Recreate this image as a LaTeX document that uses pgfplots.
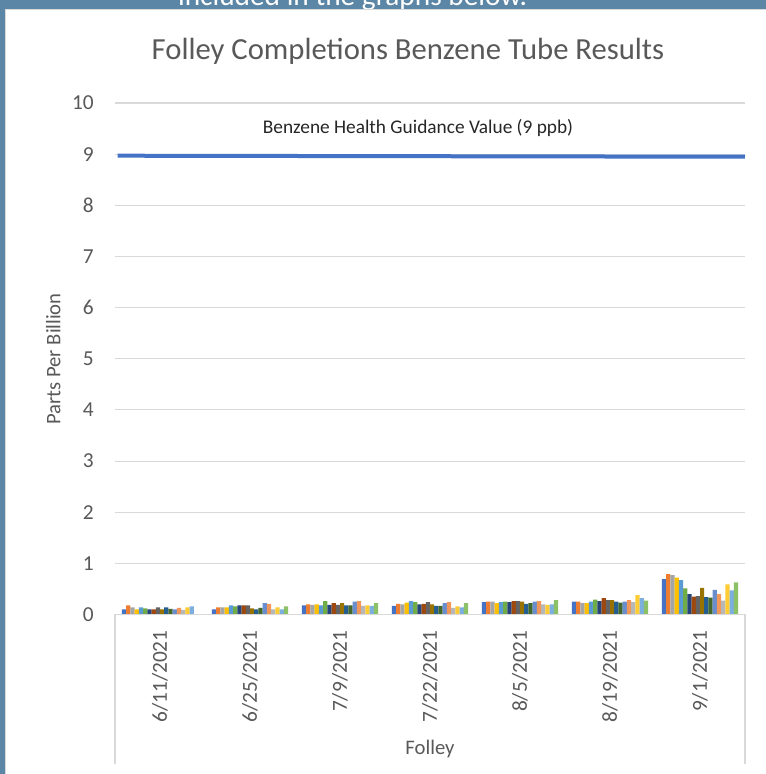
\documentclass[border=0pt]{standalone}
\usepackage{fontspec}
\setmainfont{Carlito}
\usepackage{pgfplots}
\usepackage{pgfplotstable}
\pgfplotsset{compat=1.18}
\definecolor{c1}{HTML}{4472C4}
\definecolor{c2}{HTML}{ED7D31}
\definecolor{c3}{HTML}{A5A5A5}
\definecolor{c4}{HTML}{FFC000}
\definecolor{c5}{HTML}{5B9BD5}
\definecolor{c6}{HTML}{70AD47}
\definecolor{c7}{HTML}{264478}
\definecolor{c8}{HTML}{9E480E}
\definecolor{c9}{HTML}{636363}
\definecolor{c10}{HTML}{997300}
\definecolor{c11}{HTML}{255E91}
\definecolor{c12}{HTML}{43682B}
\definecolor{c13}{HTML}{698ED0}
\definecolor{c14}{HTML}{F1975A}
\definecolor{c15}{HTML}{B7B7B7}
\definecolor{c16}{HTML}{FFCD33}
\definecolor{c17}{HTML}{7CAFDD}
\definecolor{c18}{HTML}{8CC168}
\definecolor{gridc}{HTML}{D9D9D9}
\definecolor{textc}{HTML}{595959}
\definecolor{frame}{HTML}{5B86A5}

\pgfplotstableread{
x s1 s2 s3 s4 s5 s6 s7 s8 s9 s10 s11 s12 s13 s14 s15 s16 s17 s18
0 0.10 0.18 0.14 0.10 0.14 0.12 0.10 0.10 0.14 0.10 0.14 0.11 0.10 0.13 0.09 0.14 0.16 nan
1 0.10 0.14 0.14 0.14 0.18 0.16 0.18 0.18 0.18 0.12 0.10 0.13 0.22 0.21 0.10 0.14 0.10 0.16
2 0.18 0.20 0.19 0.20 0.18 0.26 0.19 0.22 0.19 0.22 0.18 0.18 0.25 0.26 0.17 0.18 0.17 0.22
3 0.17 0.21 0.20 0.23 0.26 0.24 0.20 0.21 0.24 0.20 0.17 0.17 0.22 0.24 0.13 0.16 0.14 0.22
4 0.24 0.25 0.25 0.22 0.24 0.25 0.24 0.26 0.26 0.25 0.21 0.22 0.25 0.26 0.20 0.19 0.20 0.28
5 0.25 0.25 0.22 0.22 0.25 0.29 0.26 0.32 0.28 0.28 0.25 0.23 0.25 0.28 0.24 0.38 0.32 0.27
6 0.69 0.79 0.77 0.72 0.67 0.51 0.40 0.35 0.36 0.52 0.34 0.33 0.48 0.40 0.27 0.59 0.47 0.63
}\data

\begin{document}
\begin{tikzpicture}
\path[use as bounding box] (0,0) rectangle (574.5pt,580.5pt);
\fill[white] (0,0) rectangle (574.5pt,580.5pt);
\fill[frame] (0,573.75pt) rectangle (574.5pt,580.5pt);
\fill[frame] (0,0) rectangle (3.75pt,580.5pt);
\draw[gridc, line width=0.8pt] (4.2pt,0) -- (4.2pt,573.3pt) -- (574.5pt,573.3pt);
\begin{scope}
\clip (3.75pt,573.75pt) rectangle (574.5pt,580.5pt);
\node[anchor=base east, text=white, font=\fontsize{22}{26}\selectfont, inner sep=0pt] at (395.5pt,576.5pt) {included in the graphs below.};
\end{scope}

\node[anchor=base, text=textc, font=\fontsize{23}{28}\selectfont, inner sep=0pt] at (306pt,535.5pt) {Folley Completions Benzene Tube Results};

\begin{axis}[
  at={(86.25pt,119.625pt)}, anchor=south west,
  scale only axis, width=472.5pt, height=383.6pt,
  xmin=-0.5, xmax=6.5, ymin=0, ymax=10,
  ytick={0,1,...,10},
  xtick={0,1,...,6},
  xticklabels={6/11/2021,6/25/2021,7/9/2021,7/22/2021,8/5/2021,8/19/2021,9/1/2021},
  major tick length=0pt,
  ymajorgrids,
  grid style={gridc, line width=0.8pt},
  axis line style={draw=none},
  tick label style={text=textc, font=\fontsize{16}{19}\selectfont},
  /pgf/number format/assume math mode=true,
  yticklabel style={anchor=east, inner sep=0pt, xshift=-15.75pt},
  xticklabel style={rotate=90, anchor=east, inner sep=0pt, outer xsep=12pt},
  clip=false,
]
\addplot[ybar, bar width=3.17pt, bar shift=-26.945pt, fill=c1, draw=none] table[x=x,y=s1] {\data};
\addplot[ybar, bar width=3.17pt, bar shift=-23.775pt, fill=c2, draw=none] table[x=x,y=s2] {\data};
\addplot[ybar, bar width=3.17pt, bar shift=-20.605pt, fill=c3, draw=none] table[x=x,y=s3] {\data};
\addplot[ybar, bar width=3.17pt, bar shift=-17.435pt, fill=c4, draw=none] table[x=x,y=s4] {\data};
\addplot[ybar, bar width=3.17pt, bar shift=-14.265pt, fill=c5, draw=none] table[x=x,y=s5] {\data};
\addplot[ybar, bar width=3.17pt, bar shift=-11.095pt, fill=c6, draw=none] table[x=x,y=s6] {\data};
\addplot[ybar, bar width=3.17pt, bar shift=-7.925pt, fill=c7, draw=none] table[x=x,y=s7] {\data};
\addplot[ybar, bar width=3.17pt, bar shift=-4.755pt, fill=c8, draw=none] table[x=x,y=s8] {\data};
\addplot[ybar, bar width=3.17pt, bar shift=-1.585pt, fill=c9, draw=none] table[x=x,y=s9] {\data};
\addplot[ybar, bar width=3.17pt, bar shift=1.585pt, fill=c10, draw=none] table[x=x,y=s10] {\data};
\addplot[ybar, bar width=3.17pt, bar shift=4.755pt, fill=c11, draw=none] table[x=x,y=s11] {\data};
\addplot[ybar, bar width=3.17pt, bar shift=7.925pt, fill=c12, draw=none] table[x=x,y=s12] {\data};
\addplot[ybar, bar width=3.17pt, bar shift=11.095pt, fill=c13, draw=none] table[x=x,y=s13] {\data};
\addplot[ybar, bar width=3.17pt, bar shift=14.265pt, fill=c14, draw=none] table[x=x,y=s14] {\data};
\addplot[ybar, bar width=3.17pt, bar shift=17.435pt, fill=c15, draw=none] table[x=x,y=s15] {\data};
\addplot[ybar, bar width=3.17pt, bar shift=20.605pt, fill=c16, draw=none] table[x=x,y=s16] {\data};
\addplot[ybar, bar width=3.17pt, bar shift=23.775pt, fill=c17, draw=none] table[x=x,y=s17] {\data};
\addplot[ybar, bar width=3.17pt, bar shift=26.945pt, fill=c18, draw=none] table[x=x,y=s18] {\data};
\addplot[sharp plot, c1, line width=3pt, mark=none] coordinates {(-0.47,8.97) (6.5,8.95)};
\end{axis}

\draw[gridc, line width=0.8pt] (86.25pt,119.625pt) -- (558.75pt,119.625pt);
\draw[gridc, line width=0.8pt] (86.25pt,119.625pt) -- (86.25pt,7.5pt);
\draw[gridc, line width=0.8pt] (558.75pt,119.625pt) -- (558.75pt,7.5pt);
\node[anchor=base, text=textc, font=\fontsize{15.5}{18}\selectfont, inner sep=0pt] at (322.5pt,14.25pt) {Folley};
\node[rotate=90, text=textc, font=\fontsize{15.5}{18}\selectfont, inner sep=0pt] at (40pt,311.25pt) {Parts Per Billion};
\node[anchor=base, text=black!85, font=\fontsize{14.5}{17}\selectfont, inner sep=0pt] at (313.5pt,480pt) {Benzene Health Guidance Value (9 ppb)};
\end{tikzpicture}
\end{document}
